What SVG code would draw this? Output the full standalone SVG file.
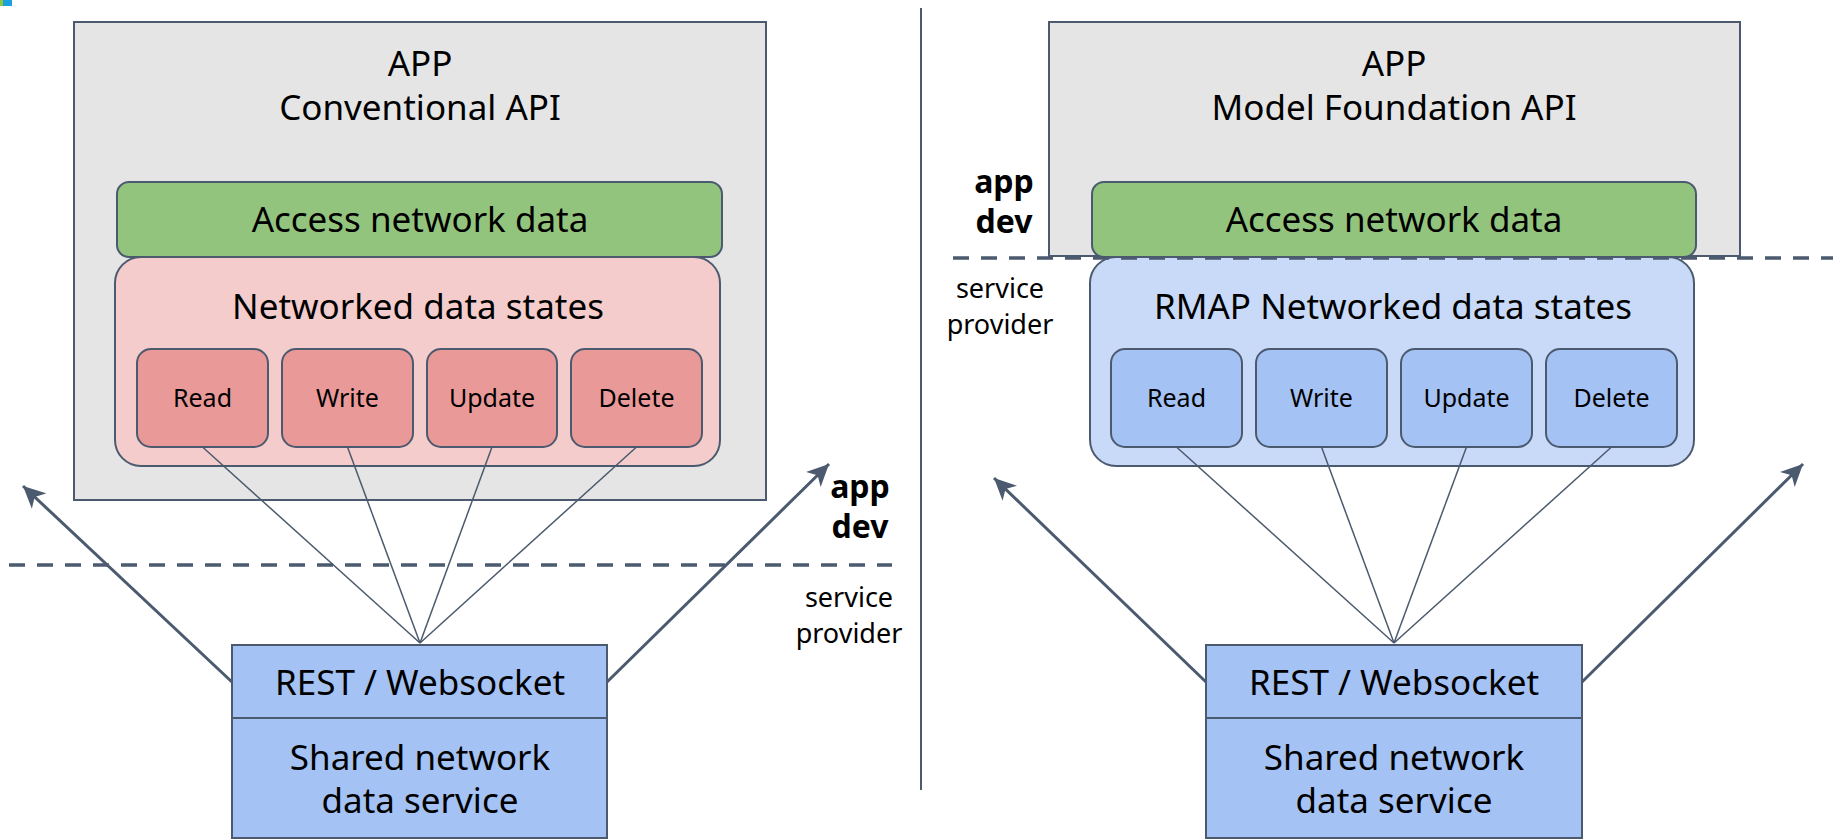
<svg xmlns="http://www.w3.org/2000/svg" width="1833" height="839" viewBox="0 0 1833 839">
  <defs>
    <style>
      text { font-family: "Noto Sans", "Open Sans", sans-serif; fill: #000; text-anchor: middle; }
      .title { font-size: 35px; }
      .cell-label { font-size: 25px; }
      .role-bold { font-size: 32px; font-weight: bold; }
      .role { font-size: 27px; }
      .frame { fill: #e5e5e5; stroke: #4b5a6e; stroke-width: 2; }
      .access { fill: #93c47d; stroke: #4b5a6e; stroke-width: 2; }
      .states-red { fill: #f4cccc; stroke: #4b5a6e; stroke-width: 2; }
      .cell-red { fill: #ea9999; stroke: #4b5a6e; stroke-width: 2; }
      .states-blue { fill: #c9daf8; stroke: #4b5a6e; stroke-width: 2; }
      .cell-blue { fill: #a4c2f4; stroke: #4b5a6e; stroke-width: 2; }
      .service { fill: #a4c2f4; stroke: #4b5a6e; stroke-width: 2; }
      .fan { fill: none; stroke: #4b5a6e; stroke-width: 1.5; }
      .arrow { fill: none; stroke: #4b5a6e; stroke-width: 3; marker-end: url(#head); }
      .boundary { fill: none; stroke: #4b5a6e; stroke-width: 3.5; stroke-dasharray: 16 12; }
      .divider { fill: none; stroke: #4b5a6e; stroke-width: 2; }
    </style>
    <marker id="head" markerUnits="userSpaceOnUse" viewBox="0 0 24 22" refX="22" refY="11" markerWidth="24" markerHeight="22" orient="auto">
      <path d="M22,11 L0,0.5 L6,11 L0,21.5 Z" fill="#4b5a6e"/>
    </marker>
  </defs>

  <!-- corner mark -->
  <rect x="0" y="0" width="3" height="6" fill="#8cc63f"/>
  <rect x="3" y="0" width="9" height="6" fill="#1ba1e2"/>

  <!-- left: conventional API -->
  <g id="app-conventional">
    <rect class="frame" x="74" y="22" width="692" height="478"/>
    <text class="title" x="420" y="76">APP</text>
    <text class="title" x="420" y="120">Conventional API</text>
  </g>
  <g id="access-left">
    <rect class="access" x="117" y="182" width="605" height="75" rx="12"/>
    <text class="title" x="420" y="232">Access network data</text>
  </g>
  <g id="states-left">
    <rect class="states-red" x="115" y="257" width="605" height="209" rx="26"/>
    <text class="title" x="418" y="319">Networked data states</text>
  </g>
  <g id="read-left">
    <rect class="cell-red" x="137" y="349" width="131" height="98" rx="14"/>
    <text class="cell-label" x="202.5" y="407">Read</text>
  </g>
  <g id="write-left">
    <rect class="cell-red" x="282" y="349" width="131" height="98" rx="14"/>
    <text class="cell-label" x="347.5" y="407">Write</text>
  </g>
  <g id="update-left">
    <rect class="cell-red" x="427" y="349" width="130" height="98" rx="14"/>
    <text class="cell-label" x="492" y="407">Update</text>
  </g>
  <g id="delete-left">
    <rect class="cell-red" x="571" y="349" width="131" height="98" rx="14"/>
    <text class="cell-label" x="636.5" y="407">Delete</text>
  </g>
  <g id="rest-left">
    <rect class="service" x="232" y="645" width="375" height="73"/>
    <text class="title" x="420" y="695">REST / Websocket</text>
  </g>
  <g id="shared-left">
    <rect class="service" x="232" y="718" width="375" height="120"/>
    <text class="title" x="420" y="770">Shared network</text>
    <text class="title" x="420" y="813">data service</text>
  </g>
  <g id="roles-left">
    <text class="role-bold" x="860" y="498">app</text>
    <text class="role-bold" x="860" y="538">dev</text>
    <text class="role" x="849" y="607">service</text>
    <text class="role" x="849" y="643">provider</text>
  </g>

  <!-- right: model foundation API -->
  <g id="app-model-foundation">
    <rect class="frame" x="1049" y="22" width="691" height="234"/>
    <text class="title" x="1394" y="76">APP</text>
    <text class="title" x="1394" y="120">Model Foundation API</text>
  </g>
  <g id="access-right">
    <rect class="access" x="1092" y="182" width="604" height="75" rx="12"/>
    <text class="title" x="1394" y="232">Access network data</text>
  </g>
  <g id="states-right">
    <rect class="states-blue" x="1090" y="257" width="604" height="209" rx="26"/>
    <text class="title" x="1393" y="319">RMAP Networked data states</text>
  </g>
  <g id="read-right">
    <rect class="cell-blue" x="1111" y="349" width="131" height="98" rx="14"/>
    <text class="cell-label" x="1176.5" y="407">Read</text>
  </g>
  <g id="write-right">
    <rect class="cell-blue" x="1256" y="349" width="131" height="98" rx="14"/>
    <text class="cell-label" x="1321.5" y="407">Write</text>
  </g>
  <g id="update-right">
    <rect class="cell-blue" x="1401" y="349" width="131" height="98" rx="14"/>
    <text class="cell-label" x="1466.5" y="407">Update</text>
  </g>
  <g id="delete-right">
    <rect class="cell-blue" x="1546" y="349" width="131" height="98" rx="14"/>
    <text class="cell-label" x="1611.5" y="407">Delete</text>
  </g>
  <g id="rest-right">
    <rect class="service" x="1206" y="645" width="376" height="73"/>
    <text class="title" x="1394" y="695">REST / Websocket</text>
  </g>
  <g id="shared-right">
    <rect class="service" x="1206" y="718" width="376" height="120"/>
    <text class="title" x="1394" y="770">Shared network</text>
    <text class="title" x="1394" y="813">data service</text>
  </g>
  <g id="roles-right">
    <text class="role-bold" x="1004" y="193">app</text>
    <text class="role-bold" x="1004" y="233">dev</text>
    <text class="role" x="1000" y="298">service</text>
    <text class="role" x="1000" y="334">provider</text>
  </g>

  <!-- connectors -->
  <g id="connectors">
    <line class="divider" x1="921" y1="8" x2="921" y2="790"/>
    <line class="boundary" x1="9" y1="565" x2="892" y2="565"/>
    <line class="boundary" x1="953" y1="258" x2="1833" y2="258"/>
    <line class="fan" x1="202.5" y1="447" x2="420" y2="643"/>
    <line class="fan" x1="347.5" y1="447" x2="420" y2="643"/>
    <line class="fan" x1="492" y1="447" x2="420" y2="643"/>
    <line class="fan" x1="636.5" y1="447" x2="420" y2="643"/>
    <line class="fan" x1="1176.5" y1="447" x2="1394" y2="643"/>
    <line class="fan" x1="1321.5" y1="447" x2="1394" y2="643"/>
    <line class="fan" x1="1466.5" y1="447" x2="1394" y2="643"/>
    <line class="fan" x1="1611.5" y1="447" x2="1394" y2="643"/>
    <line class="arrow" x1="232" y1="682" x2="23" y2="486"/>
    <line class="arrow" x1="607" y1="682" x2="829" y2="464"/>
    <line class="arrow" x1="1206" y1="682" x2="994" y2="478"/>
    <line class="arrow" x1="1582" y1="682" x2="1803" y2="464"/>
  </g>
</svg>
